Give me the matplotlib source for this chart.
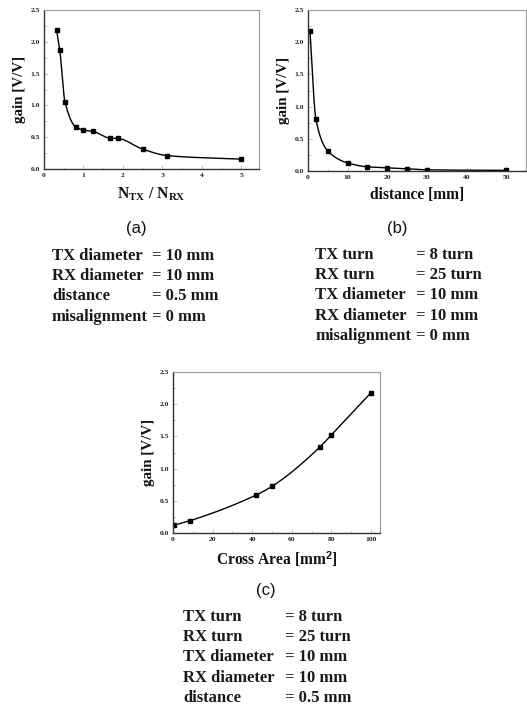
import numpy as np
import matplotlib
matplotlib.use("Agg")
import matplotlib.pyplot as plt
from matplotlib.ticker import MultipleLocator, AutoMinorLocator

plt.rcParams['mathtext.fontset'] = 'custom'
plt.rcParams['mathtext.rm'] = 'Liberation Serif:bold'
plt.rcParams['mathtext.bf'] = 'Liberation Serif:bold'
plt.rcParams['mathtext.it'] = 'Liberation Serif:bold'
plt.rcParams['mathtext.sf'] = 'Liberation Sans:bold'

# ---- data ----
ratio_x = [0.32, 0.40, 0.53, 0.80, 1.00, 1.25, 1.67, 1.875, 2.50, 3.125, 5.00]
ratio_gain = [2.18, 1.87, 1.06, 0.665, 0.612, 0.59, 0.485, 0.48, 0.313, 0.21, 0.155]

dist_x = [0.5, 2, 5, 10, 15, 20, 25, 30, 50]
dist_gain = [2.17, 0.80, 0.31, 0.125, 0.065, 0.05, 0.035, 0.018, 0.01]

area_x = [0.5, 8.5, 42, 50, 74, 80, 100]
area_gain = [0.12, 0.19, 0.59, 0.725, 1.33, 1.525, 2.18]

yticks = [0.0, 0.5, 1.0, 1.5, 2.0, 2.5]

info_a = [("TX diameter", "= 10 mm"), ("RX diameter", "= 10 mm"),
          ("distance", "= 0.5 mm"), ("misalignment", "= 0 mm")]
info_b = [("TX turn", "= 8 turn"), ("RX turn", "= 25 turn"),
          ("TX diameter", "= 10 mm"), ("RX diameter", "= 10 mm"),
          ("misalignment", "= 0 mm")]
info_c = [("TX turn", "= 8 turn"), ("RX turn", "= 25 turn"),
          ("TX diameter", "= 10 mm"), ("RX diameter", "= 10 mm"),
          ("distance", "= 0.5 mm")]


def pchip(x, y, n=400):
    x = np.asarray(x, float); y = np.asarray(y, float)
    h = np.diff(x); d = np.diff(y) / h
    m = np.zeros_like(y)
    for k in range(1, len(x) - 1):
        if d[k - 1] * d[k] > 0:
            w1 = 2 * h[k] + h[k - 1]; w2 = h[k] + 2 * h[k - 1]
            m[k] = (w1 + w2) / (w1 / d[k - 1] + w2 / d[k])
    m[0] = d[0]; m[-1] = d[-1]
    xs = np.linspace(x[0], x[-1], n)
    idx = np.clip(np.searchsorted(x, xs) - 1, 0, len(x) - 2)
    t = (xs - x[idx]) / h[idx]
    h00 = 2 * t**3 - 3 * t**2 + 1; h10 = t**3 - 2 * t**2 + t
    h01 = -2 * t**3 + 3 * t**2; h11 = t**3 - t**2
    ys = h00 * y[idx] + h10 * h[idx] * m[idx] + h01 * y[idx + 1] + h11 * h[idx] * m[idx + 1]
    return xs, ys


W, H = 527, 707
fig = plt.figure(figsize=(W / 100, H / 100), dpi=100)

SERIF = 'Liberation Serif'
SANS = 'Liberation Sans'


def make_ax(rect_px, x, y, xlim, xstep, xlabel):
    l, t, r, b = rect_px
    ax = fig.add_axes([l / W, 1 - b / H, (r - l) / W, (b - t) / H])
    xs, ys = pchip(x, y)
    ax.plot(xs, ys, color='black', lw=1.0)
    ax.plot(x, y, 's', color='black', ms=3.2)
    ax.set_xlim(*xlim)
    ax.set_ylim(0, 2.5)
    ax.set_yticks(yticks)
    ax.xaxis.set_major_locator(MultipleLocator(xstep))
    ax.xaxis.set_minor_locator(AutoMinorLocator(2))
    ax.yaxis.set_minor_locator(AutoMinorLocator(2))
    ax.tick_params(which='both', direction='in', color='#bbbbbb', width=0.6)
    ax.tick_params(which='major', length=3, labelsize=5.4, pad=3, labelcolor='#222222')
    ax.tick_params(which='minor', length=1.8)
    for lab in ax.get_xticklabels() + ax.get_yticklabels():
        lab.set_fontfamily(SERIF); lab.set_fontweight('bold')
    ax.yaxis.set_major_formatter(matplotlib.ticker.FormatStrFormatter('%.1f'))
    for s in ('left', 'bottom'):
        ax.spines[s].set_color('#333333'); ax.spines[s].set_linewidth(1.0)
    for s in ('top', 'right'):
        ax.spines[s].set_color('#999999'); ax.spines[s].set_linewidth(0.8)
    ax.set_ylabel('gain [V/V]', fontfamily=SERIF, fontweight='bold', fontsize=10.8,
                  labelpad=3, color='#111111')
    ax.set_xlabel(xlabel, fontfamily=SERIF, fontweight='bold', fontsize=11.2,
                  labelpad=5, color='#111111')
    return ax


make_ax((44, 10, 259, 169), ratio_x, ratio_gain, (0, 5.45), 1,
        r'$\mathrm{N}_{\mathrm{TX}}\ /\ \mathrm{N}_{\mathrm{RX}}$')
make_ax((308, 10, 526, 171), dist_x, dist_gain, (0, 55), 10, 'distance [mm]')
make_ax((173, 372, 380, 533), area_x, area_gain, (0, 104.5), 20,
        r'Cross Area [mm$^{\mathsf{2}}$]')


def info_block(label, cx, ly, rows, x1, x2, y0, dy=20.2):
    fig.text(cx / W, 1 - ly / H, label, ha='center', va='center',
             fontfamily=SANS, fontsize=12, color='#111111')
    for i, (a, b) in enumerate(rows):
        y = 1 - (y0 + i * dy) / H
        fig.text(x1 / W, y, a, ha='left', va='center', fontfamily=SERIF,
                 fontweight='bold', fontsize=12, color='#1a1a1a')
        fig.text(x2 / W, y, b, ha='left', va='center', fontfamily=SERIF,
                 fontweight='bold', fontsize=12, color='#1a1a1a')


info_block('(a)', 136, 228, info_a, 52, 152, 256)
info_block('(b)', 397, 228, info_b, 315, 416, 255)
info_block('(c)', 266, 591, info_c, 183, 285, 617)

fig.savefig('out.png', dpi=100)
